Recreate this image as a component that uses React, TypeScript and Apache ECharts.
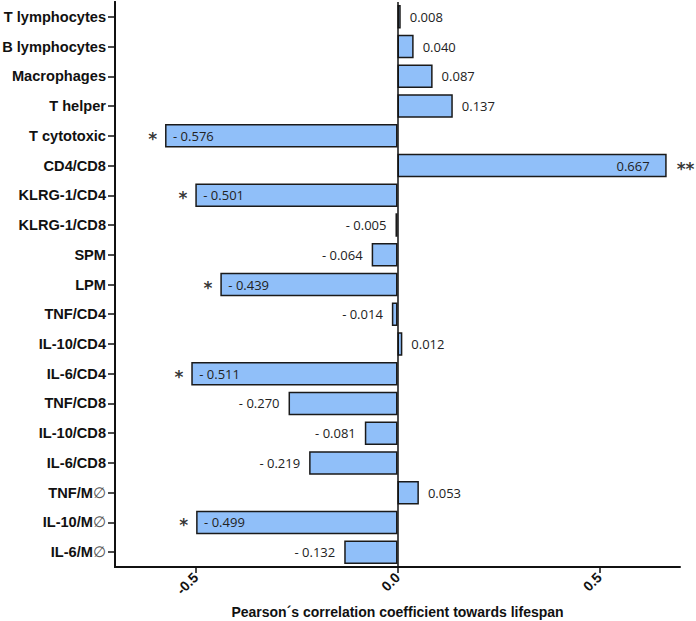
import React, { useEffect, useRef } from "react";
import * as echarts from "echarts";

// Immune parameters, listed top to bottom
const categories = [
  "T lymphocytes",
  "B lymphocytes",
  "Macrophages",
  "T helper",
  "T cytotoxic",
  "CD4/CD8",
  "KLRG-1/CD4",
  "KLRG-1/CD8",
  "SPM",
  "LPM",
  "TNF/CD4",
  "IL-10/CD4",
  "IL-6/CD4",
  "TNF/CD8",
  "IL-10/CD8",
  "IL-6/CD8",
  "TNF/M∅",
  "IL-10/M∅",
  "IL-6/M∅",
];

// Pearson correlation with lifespan
const values = [
  0.008, 0.04, 0.087, 0.137, -0.576, 0.667, -0.501, -0.005, -0.064, -0.439,
  -0.014, 0.012, -0.511, -0.27, -0.081, -0.219, 0.053, -0.499, -0.132,
];

// Significance markers
const significance = [
  "", "", "", "", "*", "**", "*", "", "", "*",
  "", "", "*", "", "", "", "", "*", "",
];

const xTicks = [-0.5, 0, 0.5];
const xMin = -0.7;
const xMax = 0.7;

const fmt = (v: number) => (v < 0 ? "- " + Math.abs(v).toFixed(3) : v.toFixed(3));

export default function App() {
  const ref = useRef<HTMLDivElement>(null);

  useEffect(() => {
    if (!ref.current) return;
    const chart = echarts.init(ref.current, null, { renderer: "svg" });

    const barData = values.map((v) => {
      const inside = Math.abs(v) > 0.3;
      return {
        value: v,
        label: {
          show: true,
          position: inside ? (v < 0 ? "insideLeft" : "insideRight") : v < 0 ? "left" : "right",
          distance: inside ? (v < 0 ? 8 : 17) : 9,
        },
      };
    });

    const starData = values
      .map((v, i) => ({ v, i, s: significance[i] }))
      .filter((d) => d.s)
      .map((d) => ({
        value: [d.v, categories[d.i]],
        label: {
          show: true,
          formatter: d.s,
          position: d.v < 0 ? "left" : "right",
          distance: d.v < 0 ? 8 : 10,
        },
      }));

    chart.setOption({
      animation: false,
      grid: { left: 115, right: 16, top: 2, bottom: 54, containLabel: false, outerBoundsMode: "none" },
      xAxis: {
        type: "value",
        position: "bottom",
        min: xMin,
        max: xMax,
        splitLine: { show: false },
        axisLine: { show: true, onZero: false, lineStyle: { color: "#111", width: 2 } },
        axisTick: {
          show: true,
          length: 6,
          lineStyle: { color: "#111", width: 1.5 },
          customValues: xTicks,
        },
        axisLabel: {
          customValues: xTicks,
          rotate: 45,
          margin: 8,
          fontFamily: "Liberation Sans",
          fontWeight: "bold",
          fontSize: 14,
          color: "#111",
          formatter: (v: number) => v.toFixed(1),
        },
        name: "Pearson´s correlation coefficient towards lifespan",
        nameLocation: "middle",
        nameGap: 38,
        nameTextStyle: {
          fontFamily: "Liberation Sans",
          fontWeight: "bold",
          fontSize: 14,
          color: "#111",
        },
      },
      yAxis: [
        {
          type: "category",
          position: "left",
          data: categories,
          inverse: true,
          axisLine: { show: true, onZero: false, lineStyle: { color: "#111", width: 2 } },
          axisTick: { show: true, alignWithLabel: true, length: 7, lineStyle: { color: "#111", width: 1.5 } },
          axisLabel: {
            margin: 9,
            fontFamily: "Liberation Sans",
            fontWeight: "bold",
            fontSize: 14.6,
            color: "#111",
            formatter: (s: string) => s.replace("∅", "{phi|∅}"),
            rich: {
              phi: {
                fontFamily: "DejaVu Sans",
                fontWeight: "normal",
                fontSize: 15,
                color: "#555",
              },
            },
          },
        },
        {
          // plain frame line on the left edge of the plot
          type: "value",
          position: "left",
          min: 0,
          max: 1,
          axisLine: { show: true, onZero: false, lineStyle: { color: "#111", width: 2 } },
          axisTick: { show: false },
          axisLabel: { show: false },
          splitLine: { show: false },
        },
      ],
      series: [
        {
          type: "bar",
          data: barData,
          clip: false,
          barCategoryGap: "21%",
          itemStyle: { color: "#90BFF9", borderColor: "#1a1a1a", borderWidth: 1.5 },
          label: {
            fontFamily: "Open Sans",
            fontSize: 13,
            color: "#222",
            formatter: (p: any) => fmt(p.value),
          },
          markLine: {
            silent: true,
            symbol: "none",
            label: { show: false },
            lineStyle: { type: "solid", color: "#111" },
            data: [
              // zero line through the bars
              { xAxis: 0, lineStyle: { width: 1.5 } },
              // left frame line along the category axis
              { xAxis: xMin, lineStyle: { width: 2 } },
            ],
          },
        },
        {
          type: "scatter",
          data: starData,
          symbolSize: 0,
          itemStyle: { color: "#111" },
          label: {
            fontFamily: "DejaVu Sans",
            fontWeight: "bold",
            fontSize: 17,
            color: "#000",
            offset: [0, 3],
          },
        },
      ],
    });

    return () => chart.dispose();
  }, []);

  return (
    <div
      ref={ref}
      style={{ position: "absolute", left: 0, top: 0, width: 696, height: 621 }}
    />
  );
}
